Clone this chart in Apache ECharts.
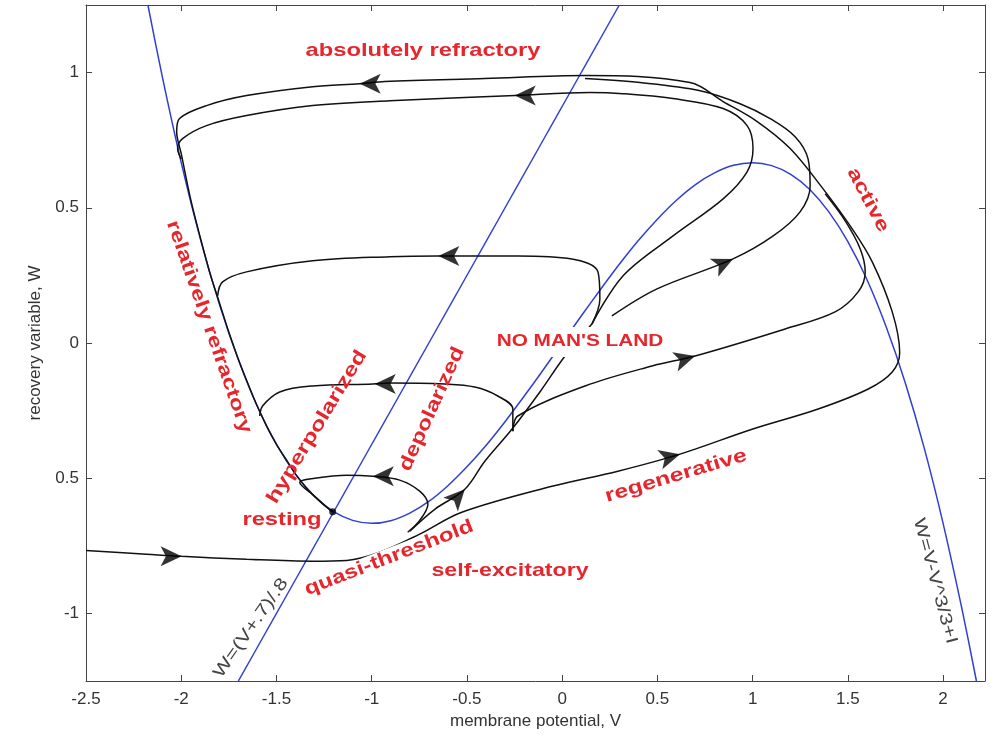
<!DOCTYPE html>
<html>
<head>
<meta charset="UTF-8">
<title>phase plane</title>
<script src="https://cdn.jsdelivr.net/npm/echarts@6/dist/echarts.min.js"></script>
<style>
  html, body { margin: 0; background: #fff; }
  #main { width: 993px; height: 745px; }
</style>
</head>
<body>
<div id="main"></div>
<script>
// axis ticks, as printed in the figure
var xTicks = [-2.5, -2, -1.5, -1, -0.5, 0, 0.5, 1, 1.5, 2];
var xTickLabels = ['-2.5', '-2', '-1.5', '-1', '-0.5', '0', '0.5', '1', '1.5', '2'];
var yTicks = [-1, -0.5, 0, 0.5, 1];
var yTickLabels = ['-1', '0.5', '0', '0.5', '1'];

// V nullcline  W = V - V^3/3 + I   (blue cubic)
var cubicNull = [
  [-2.175, 1.25], [-2.1, 0.987], [-2.0, 0.667], [-1.9, 0.386], [-1.8, 0.144], [-1.7, -0.062],
  [-1.6, -0.235], [-1.5, -0.375], [-1.4, -0.485], [-1.3, -0.568], [-1.2, -0.624], [-1.1, -0.656],
  [-1.0, -0.667], [-0.9, -0.657], [-0.8, -0.629], [-0.7, -0.586], [-0.6, -0.528], [-0.5, -0.458],
  [-0.4, -0.379], [-0.3, -0.291], [-0.2, -0.197], [-0.1, -0.1], [0, 0], [0.1, 0.1], [0.2, 0.197],
  [0.3, 0.291], [0.4, 0.379], [0.5, 0.458], [0.6, 0.528], [0.7, 0.586], [0.8, 0.629], [0.9, 0.657],
  [1.0, 0.667], [1.1, 0.656], [1.2, 0.624], [1.3, 0.568], [1.4, 0.485], [1.5, 0.375], [1.6, 0.235],
  [1.7, 0.062], [1.8, -0.144], [1.9, -0.386], [2.0, -0.667], [2.1, -0.987], [2.175, -1.25]
];
// W nullcline  W = (V+.7)/.8   (blue straight line)
var lineNull = [[-1.7, -1.25], [0.3, 1.25]];

// trajectories (black)
var trajA = [
  [-2.5, -0.767], [-2.182, -0.781], [-1.998, -0.789], [-1.657, -0.8], [-1.31, -0.807], [-1.131, -0.804],
  [-0.958, -0.774], [-0.748, -0.707], [-0.527, -0.626], [-0.054, -0.53], [0.293, -0.474], [0.619, -0.411],
  [0.997, -0.319], [1.344, -0.244], [1.607, -0.17], [1.733, -0.107], [1.772, -0.035], [1.733, 0.115],
  [1.628, 0.3], [1.523, 0.422], [1.37, 0.57], [1.197, 0.719], [1.024, 0.819], [0.845, 0.893],
  [0.671, 0.963], [0.12, 0.989], [-0.406, 0.978], [-0.931, 0.967], [-1.063, 0.959], [-1.31, 0.948],
  [-1.657, 0.915], [-1.867, 0.878], [-2.009, 0.83], [-2.024, 0.781], [-2.0, 0.7], [-1.95, 0.53],
  [-1.9, 0.39], [-1.85, 0.26], [-1.8, 0.15], [-1.75, 0.04], [-1.7, -0.06], [-1.65, -0.15],
  [-1.6, -0.235], [-1.55, -0.31], [-1.5, -0.375], [-1.45, -0.43], [-1.4, -0.485], [-1.35, -0.53],
  [-1.3, -0.568], [-1.25, -0.6], [-1.205, -0.624]
];
var trajB = [
  [0.156, 0.07], [0.319, 0.248], [0.582, 0.396], [0.845, 0.533], [0.971, 0.633], [1.002, 0.719],
  [0.971, 0.804], [0.845, 0.867], [0.582, 0.904], [0.319, 0.922], [0.146, 0.926], [-0.248, 0.915],
  [-0.905, 0.896], [-1.31, 0.878], [-1.657, 0.841], [-1.867, 0.804], [-1.993, 0.756], [-2.019, 0.719],
  [-2.0, 0.68]
];
var trajC = [
  [0.261, 0.1], [0.498, 0.2], [0.897, 0.311], [1.108, 0.396], [1.249, 0.485], [1.302, 0.581],
  [1.291, 0.681], [1.223, 0.763], [1.092, 0.83], [0.934, 0.885], [0.724, 0.933], [0.409, 0.963],
  [0.12, 0.978]
];
var trajD = [
  [-0.259, -0.326], [-0.233, -0.27], [0.12, -0.159], [0.472, -0.085], [0.698, -0.048], [1.171, 0.052],
  [1.433, 0.115], [1.554, 0.189], [1.591, 0.263], [1.565, 0.348], [1.486, 0.452], [1.381, 0.552]
];
var trajF = [
  [0.156, 0.07], [0.198, 0.163], [0.188, 0.263], [0.051, 0.311], [-0.233, 0.322], [-0.653, 0.322],
  [-0.905, 0.319], [-1.31, 0.304], [-1.657, 0.263], [-1.783, 0.226], [-1.809, 0.174]
];
var trajG = [
  [-0.259, -0.326], [-0.259, -0.244], [-0.338, -0.196], [-0.459, -0.163], [-0.616, -0.152],
  [-0.905, -0.148], [-0.994, -0.152], [-1.31, -0.159], [-1.483, -0.181], [-1.573, -0.233], [-1.588, -0.27]
];
var trajS = [
  [-0.8, -0.696], [-0.669, -0.615], [-0.511, -0.541], [-0.406, -0.437], [-0.264, -0.319],
  [-0.117, -0.181], [0.015, -0.048], [0.156, 0.07]
];
var trajE = [
  [-0.811, -0.7], [-0.748, -0.656], [-0.705, -0.596], [-0.748, -0.548], [-0.853, -0.507],
  [-0.994, -0.493], [-1.131, -0.489], [-1.299, -0.5], [-1.378, -0.515], [-1.299, -0.567], [-1.205, -0.626]
];

// arrow heads: position and heading (degrees, 0 = up, counter-clockwise)
var arrowPts = [
  [-1.998, -0.789], [-1.063, 0.959], [-0.249, 0.915], [-0.65, 0.322], [-0.984, -0.152],
  [-0.994, -0.493], [-0.511, -0.541], [0.619, -0.411], [0.698, -0.048], [0.897, 0.311]
];
var arrowDirs = [-90, 90, 90, 90, 90, 90, -43, -75, -74, -65];

var restPoint = [[-1.205, -0.624]];

var chart = echarts.init(document.getElementById('main'));

var RED = '#e5262d';
var BLUE = '#2f3fd2';
var tickFont = { fontFamily: '"Liberation Sans", Arial, sans-serif', fontSize: 17, color: '#333' };

function blackLine(d) {
  return {
    type: 'line', data: d, smooth: 0.35, symbol: 'none', silent: true,
    lineStyle: { color: '#111', width: 1.5 }, z: 3
  };
}

function note(text, x, y, deg, sx, opts) {
  opts = opts || {};
  var st = {
    text: text, fill: opts.color || RED,
    font: opts.font || 'bold 19px "Liberation Sans", Arial, sans-serif',
    align: 'center', verticalAlign: 'middle'
  };
  if (opts.bg) { st.backgroundColor = '#fff'; st.padding = opts.pad || [1, 2]; }
  return { type: 'text', x: x, y: y, rotation: deg * Math.PI / 180, scaleX: sx, z: 100, style: st };
}

var grayFont = '17px "Liberation Sans", Arial, sans-serif';

var option = {
  animation: false,
  backgroundColor: '#fff',
  grid: { left: 86, right: 8, top: 5, bottom: 64 },
  xAxis: [{
    type: 'value', min: -2.5, max: 2.22, position: 'bottom',
    name: 'membrane potential, V', nameLocation: 'middle', nameGap: 31,
    nameTextStyle: { fontFamily: '"Liberation Sans", Arial, sans-serif', fontSize: 17, color: '#333' },
    axisLine: { show: true, onZero: false, lineStyle: { color: '#444' } },
    axisTick: { inside: true, length: 6, customValues: xTicks, lineStyle: { color: '#444' } },
    axisLabel: Object.assign({
      margin: 10, customValues: xTicks,
      formatter: function (v) { var i = xTicks.indexOf(v); return i < 0 ? '' : xTickLabels[i]; }
    }, tickFont),
    splitLine: { show: false }
  }, {
    type: 'value', min: -2.5, max: 2.22, position: 'top',
    axisLine: { show: true, onZero: false, lineStyle: { color: '#444' } },
    axisTick: { inside: true, length: 6, customValues: xTicks, lineStyle: { color: '#444' } },
    axisLabel: { show: false }, splitLine: { show: false }
  }],
  yAxis: [{
    type: 'value', min: -1.25, max: 1.25, position: 'left',
    name: 'recovery variable, W', nameLocation: 'middle', nameGap: 42,
    nameTextStyle: { fontFamily: '"Liberation Sans", Arial, sans-serif', fontSize: 17, color: '#333' },
    axisLine: { show: true, onZero: false, lineStyle: { color: '#444' } },
    axisTick: { inside: true, length: 6, customValues: yTicks, lineStyle: { color: '#444' } },
    axisLabel: Object.assign({
      margin: 7, customValues: yTicks,
      formatter: function (v) { var i = yTicks.indexOf(v); return i < 0 ? '' : yTickLabels[i]; }
    }, tickFont),
    splitLine: { show: false }
  }, {
    type: 'value', min: -1.25, max: 1.25, position: 'right',
    axisLine: { show: true, onZero: false, lineStyle: { color: '#444' } },
    axisTick: { inside: true, length: 6, customValues: yTicks, lineStyle: { color: '#444' } },
    axisLabel: { show: false }, splitLine: { show: false }
  }],
  series: [
    { type: 'line', data: cubicNull, smooth: 0.3, symbol: 'none', silent: true, lineStyle: { color: BLUE, width: 1.5 }, z: 2 },
    { type: 'line', data: lineNull, symbol: 'none', silent: true, lineStyle: { color: BLUE, width: 1.5 }, z: 2 },
    blackLine(trajA), blackLine(trajB), blackLine(trajC), blackLine(trajD),
    blackLine(trajF), blackLine(trajG), blackLine(trajS), blackLine(trajE),
    {
      type: 'scatter', symbol: 'arrow', symbolSize: [15, 21], silent: true, z: 5,
      itemStyle: { color: '#000' },
      data: arrowPts.map(function (p, i) { return { value: p, symbolRotate: arrowDirs[i] }; })
    },
    { type: 'scatter', data: restPoint, symbolSize: 7, silent: true, z: 5, itemStyle: { color: '#000' } }
  ],
  graphic: [
    note('absolutely refractory', 423, 51, 0, 1.25),
    note('active', 868, 200, -62, 1.3),
    note('relatively refractory', 209, 327, -70.6, 1.27),
    note('hyperpolarized', 317, 427, 58.8, 1.3),
    note('depolarized', 432, 409, 65.7, 1.27),
    note("NO MAN'S LAND", 580, 342, 0, 1.3, { font: 'bold 16px "Liberation Sans", Arial, sans-serif', bg: true, pad: [7, 3] }),
    note('resting', 282, 520, 0, 1.25),
    note('quasi-threshold', 389, 558, 21.2, 1.26, { bg: true, pad: [0, 0] }),
    note('self-excitatory', 510, 571, 0, 1.22),
    note('regenerative', 676, 476, 16.6, 1.3),
    note('W=(V+.7)/.8', 251, 628, 55, 1.28, { color: '#444', font: grayFont }),
    note('W=V-V^3/3+I', 935, 581, -75, 1.3, { color: '#444', font: grayFont })
  ]
};

chart.setOption(option);
</script>
</body>
</html>
